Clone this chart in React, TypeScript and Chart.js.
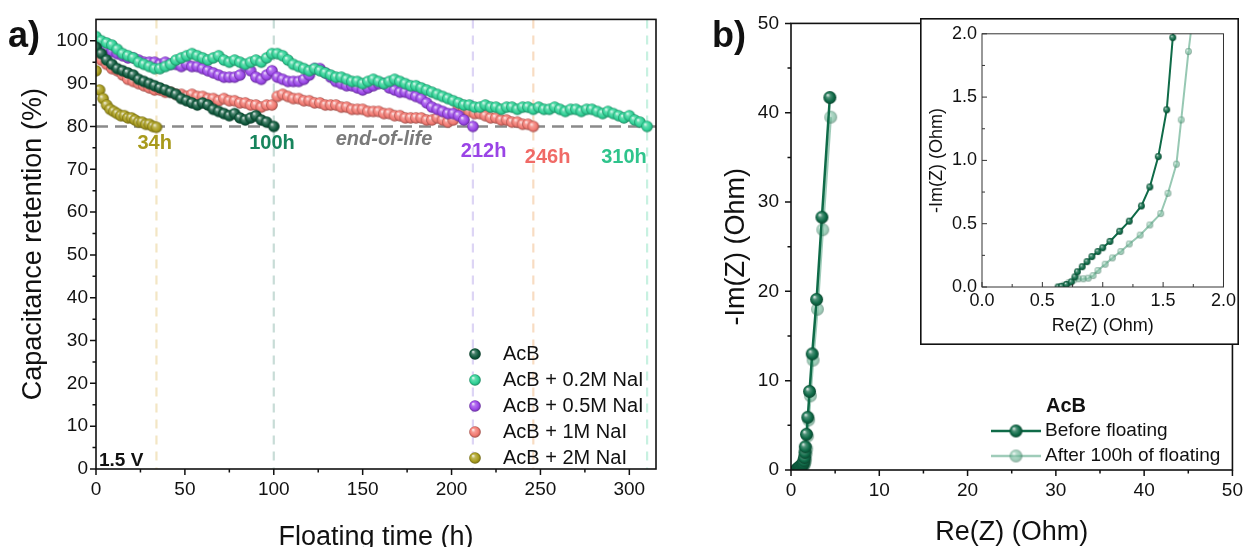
import React, { useEffect, useRef } from "react";
import { Chart, registerables } from "chart.js";
Chart.register(...registerables);

const FONT = "'Liberation Sans', Arial, sans-serif";

// ---------- Panel a data (time h, retention %) ----------
const ACB: [number, number][] = [[0,98.5],[3,97],[6,95.5],[9,94.5],[12,93.5],[15,93],[18,92.5],[21,92],[24,91],[27,90.5],[30,90],[33,89.5],[36,89],[39,88.5],[42,88],[45,87.5],[48,86.5],[51,86],[54,85.5],[57,85],[60,85.5],[63,85],[66,84],[69,83.5],[72,83],[75,82.5],[78,83],[81,82],[84,81.5],[87,82],[90,82.5],[93,81.5],[96,81],[100,80]];
const NAI_02: [number, number][] = [[0,101],[3,100],[6,99.5],[9,99],[12,98],[15,97],[18,96.5],[21,96],[24,95],[27,94.5],[30,94],[33,93.5],[36,93.5],[39,94],[42,94.5],[45,95.5],[48,96],[51,96.5],[54,97],[57,96.5],[60,96],[63,95.5],[66,96],[69,96.5],[72,95.5],[75,95],[78,95.5],[81,95],[84,94.5],[87,95],[90,95.5],[93,95],[96,96],[99,97],[102,97],[105,96.5],[108,95.5],[111,94.5],[114,94],[117,93.5],[120,93],[123,93.5],[126,93],[129,92.5],[132,92],[135,91.5],[138,91.5],[141,91],[144,90.5],[147,90.5],[150,90],[153,90.5],[156,91],[159,90.5],[162,90],[165,90.5],[168,91],[171,90.5],[174,90],[177,89.5],[180,89.5],[183,89],[186,88.5],[189,88],[192,87.5],[195,87],[198,86.5],[201,86],[204,85.5],[207,85],[210,85],[213,84.5],[216,84.5],[219,85],[222,84.5],[225,84.5],[228,84],[231,84.5],[234,84.5],[237,84],[240,84.5],[243,84.5],[246,84],[249,84.5],[252,84],[255,84],[258,84.5],[261,84],[264,83.5],[267,84],[270,84],[273,83.5],[276,84],[279,84],[282,83.5],[285,83],[288,83.5],[291,83],[294,82.5],[297,82],[300,82.5],[303,81.5],[306,81],[310,80]];
const NAI_05: [number, number][] = [[0,100.5],[3,99.5],[6,98],[9,97.5],[12,97],[15,96.5],[18,96],[21,96],[24,95.5],[27,95],[30,95],[33,95],[36,94.5],[39,95],[42,94.5],[45,94.5],[48,94],[51,94.5],[54,94],[57,94],[60,93.5],[63,93],[66,92.5],[69,92],[72,91.5],[75,91.5],[78,91.5],[81,92],[84,94],[87,93],[90,91.5],[93,91],[96,92],[99,93],[102,91.5],[105,91],[108,90.5],[111,90.5],[114,90.5],[117,91],[120,92],[123,93.5],[126,93.5],[129,92.5],[132,91.5],[135,90.5],[138,90],[141,89.5],[144,89.5],[147,89],[150,88.5],[153,89],[156,89.5],[159,90],[162,90],[165,89],[168,88.5],[171,88],[174,88],[177,87.5],[180,87],[183,86.5],[186,85.5],[189,84.5],[192,84],[195,83.5],[198,83],[201,83],[204,82.5],[207,81.5],[212,80]];
const NAI_1: [number, number][] = [[0,97],[3,95.5],[6,94.5],[9,93.5],[12,93],[15,92],[18,91],[21,90.5],[24,90],[27,89.5],[30,89],[33,88.5],[36,88.5],[39,88],[42,88],[45,87.5],[48,87.5],[51,87],[54,87.5],[57,87],[60,87],[63,86.5],[66,86.5],[69,86],[72,86.5],[75,86],[78,86],[81,85.5],[84,85.5],[87,85],[90,85],[93,84.5],[96,85],[99,85],[102,87],[105,87.5],[108,87],[111,86.5],[114,86.5],[117,86],[120,86],[123,85.5],[126,85.5],[129,85],[132,85],[135,85],[138,84.5],[141,84.5],[144,84],[147,84],[150,84],[153,83.5],[156,83.5],[159,83.5],[162,83],[165,83],[168,82.5],[171,82.5],[174,82],[177,82],[180,82],[183,82],[186,81.5],[189,81.5],[192,82],[195,81.5],[198,81],[201,81.5],[204,84.5],[207,84],[210,83.5],[213,83],[216,83],[219,82.5],[222,82],[225,82],[228,81.5],[231,81.5],[234,81],[237,81],[240,80.5],[243,80.5],[246,80]];
const NAI_2: [number, number][] = [[0,93],[2,88.5],[4,86.5],[6,85],[8,84],[10,83.5],[12,83],[14,82.5],[16,82.5],[18,82],[20,82],[22,81.5],[24,81],[26,81],[28,80.5],[30,80.5],[32,80],[34,79.8]];

const SERIES_LABELS = ["AcB", "AcB + 0.2M NaI", "AcB + 0.5M NaI", "AcB + 1M NaI", "AcB + 2M NaI"];
const SERIES_DATA = [ACB, NAI_02, NAI_05, NAI_1, NAI_2];
const SERIES_COLORS = ["#0f5a3d", "#2fd196", "#9b47e8", "#f27a72", "#a99d1f"];

const END_OF_LIFE = 80;
const LIFETIMES = [34, 100, 212, 246, 310];
const LIFETIME_LABELS = ["34h", "100h", "212h", "246h", "310h"];
const LIFETIME_LABEL_POS: [number, number][] = [[33, 76], [99, 76], [218, 74.2], [254, 72.8], [297, 72.8]];
const LIFETIME_TEXT_COLORS = ["#a89a1c", "#17845c", "#9a44e6", "#f06a66", "#2fc48c"];
const LIFETIME_LINE_COLORS = ["#f3e6c4", "#c8dcd7", "#ddd5f5", "#f8dcc2", "#c8f1e1"];

const A_X_TICKS = [0, 50, 100, 150, 200, 250, 300];
const A_X_MINOR = [25, 75, 125, 175, 225, 275];
const A_Y_TICKS = [0, 10, 20, 30, 40, 50, 60, 70, 80, 90, 100];
const A_Y_MINOR = [5, 15, 25, 35, 45, 55, 65, 75, 85, 95];

// ---------- Panel b data (Re Z, -Im Z) ----------
const BEFORE_RE = [0.63,0.66,0.70,0.74,0.77,0.79,0.83,0.87,0.91,0.96,1.0,1.06,1.14,1.22,1.32,1.39,1.46,1.53,1.58,1.62,1.75,1.9,2.1,2.4,2.9,3.5,4.4];
const BEFORE_IM = [0,0.005,0.02,0.04,0.08,0.12,0.16,0.2,0.24,0.28,0.31,0.36,0.44,0.52,0.64,0.79,1.03,1.4,1.97,2.6,4.0,5.9,8.8,13.0,19.1,28.3,41.7];
const AFTER_RE = [0.65,0.68,0.72,0.76,0.8,0.84,0.88,0.92,0.96,1.02,1.08,1.15,1.22,1.31,1.39,1.48,1.54,1.61,1.65,1.71,1.78,1.88,2.0,2.2,2.5,3.0,3.6,4.5];
const AFTER_IM = [0,0.015,0.035,0.055,0.065,0.065,0.07,0.09,0.13,0.18,0.23,0.28,0.34,0.41,0.49,0.58,0.74,0.97,1.32,1.86,2.4,3.8,5.6,8.3,12.3,18.0,26.9,39.5];
const B_LABELS = ["Before floating", "After 100h of floating"];
const B_COLORS = ["#0f6b48", "#7fbca2"];

const B_TICKS = [0, 10, 20, 30, 40, 50];
const B_MINOR = [5, 15, 25, 35, 45];
const IN_TICKS = [0, 0.5, 1, 1.5, 2];
const IN_MINOR = [0.25, 0.75, 1.25, 1.75];

// ---------- helpers ----------
function rgb(hex: string) {
  const n = parseInt(hex.slice(1), 16);
  return [(n >> 16) & 255, (n >> 8) & 255, n & 255];
}
function mix(c: number[], t: number[], f: number) {
  return c.map((v, i) => Math.round(v + (t[i] - v) * f));
}
function rgba(c: number[], a: number) {
  return `rgba(${c[0]},${c[1]},${c[2]},${a})`;
}
function ball(color: string, r: number, alpha = 1) {
  const s = Math.ceil(2 * r + 2);
  const c = document.createElement("canvas");
  c.width = s;
  c.height = s;
  const g = c.getContext("2d")!;
  const cx = s / 2, cy = s / 2;
  const base = rgb(color);
  const grad = g.createRadialGradient(cx - r * 0.35, cy - r * 0.4, r * 0.05, cx, cy, r);
  grad.addColorStop(0, rgba(mix(base, [255, 255, 255], 0.85), alpha));
  grad.addColorStop(0.3, rgba(mix(base, [255, 255, 255], 0.25), alpha));
  grad.addColorStop(0.7, rgba(base, alpha));
  grad.addColorStop(1, rgba(mix(base, [0, 0, 0], 0.35), alpha));
  g.beginPath();
  g.arc(cx, cy, r, 0, Math.PI * 2);
  g.fillStyle = grad;
  g.fill();
  return c;
}

function fixTicks(values: number[]) {
  return (scale: any) => {
    scale.ticks = values.map((v) => ({ value: v }));
  };
}

function drawTicks(chart: any, xs: number[], xm: number[], ys: number[], ym: number[], inward: boolean, maj: number, min: number, color: string, lw: number) {
  const { ctx, chartArea, scales } = chart;
  const { bottom, left } = chartArea;
  const s = inward ? -1 : 1;
  ctx.save();
  ctx.strokeStyle = color;
  ctx.lineWidth = lw;
  ctx.beginPath();
  xs.forEach((v) => { const p = scales.x.getPixelForValue(v); ctx.moveTo(p, bottom); ctx.lineTo(p, bottom + s * maj); });
  xm.forEach((v) => { const p = scales.x.getPixelForValue(v); ctx.moveTo(p, bottom); ctx.lineTo(p, bottom + s * min); });
  ys.forEach((v) => { const p = scales.y.getPixelForValue(v); ctx.moveTo(left, p); ctx.lineTo(left - s * maj, p); });
  ym.forEach((v) => { const p = scales.y.getPixelForValue(v); ctx.moveTo(left, p); ctx.lineTo(left - s * min, p); });
  ctx.stroke();
  ctx.restore();
}

function frame(chart: any, color: string, lw: number) {
  const { ctx, chartArea: { left, right, top, bottom } } = chart;
  ctx.save();
  ctx.strokeStyle = color;
  ctx.lineWidth = lw;
  ctx.strokeRect(left, top, right - left, bottom - top);
  ctx.restore();
}

function text(ctx: CanvasRenderingContext2D, t: string, x: number, y: number, font: string, color: string, align: CanvasTextAlign = "left") {
  ctx.save();
  ctx.font = font;
  ctx.fillStyle = color;
  ctx.textAlign = align;
  ctx.textBaseline = "middle";
  ctx.fillText(t, x, y);
  ctx.restore();
}

const tickFont = (size: number) => ({ family: FONT, size });

export default function App() {
  const aRef = useRef<HTMLCanvasElement>(null);
  const bRef = useRef<HTMLCanvasElement>(null);
  const iRef = useRef<HTMLCanvasElement>(null);

  useEffect(() => {
    document.body.style.margin = "0";
    document.body.style.overflow = "hidden";
    const balls = SERIES_COLORS.map((c) => ball(c, 5.8));

    const panelA = new Chart(aRef.current!, {
      type: "scatter",
      data: {
        datasets: SERIES_DATA.map((d, i) => ({
          label: SERIES_LABELS[i],
          data: d.map(([x, y]) => ({ x, y })),
          pointStyle: balls[i] as any,
          pointRadius: 5.8,
          showLine: false,
        })),
      },
      options: {
        animation: false,
        responsive: false,
        maintainAspectRatio: false,
        layout: { padding: { top: 18, right: 24, left: 0, bottom: 0 } },
        plugins: { legend: { display: false }, tooltip: { enabled: false } },
        scales: {
          x: {
            type: "linear", min: 0, max: 315,
            afterBuildTicks: fixTicks(A_X_TICKS),
            afterFit: (s: any) => { s.height = 78; },
            grid: { display: false, drawTicks: false },
            border: { display: false },
            ticks: { padding: 9, color: "#111", font: tickFont(19), maxRotation: 0, autoSkip: false },
            title: { display: true, text: "Floating time (h)", color: "#111", font: { family: FONT, size: 27 }, padding: { top: 0, bottom: -7 } },
          },
          y: {
            type: "linear", min: 0, max: 105,
            afterBuildTicks: fixTicks(A_Y_TICKS),
            afterFit: (s: any) => { s.width = 96; },
            grid: { display: false, drawTicks: false },
            border: { display: false },
            ticks: { padding: 8, color: "#111", font: tickFont(19), autoSkip: false },
            title: { display: true, text: "Capacitance retention (%)", color: "#111", font: { family: FONT, size: 27 }, padding: { top: 17, bottom: 0 } },
          },
        },
      },
      plugins: [
        {
          id: "panelA",
          beforeDatasetsDraw(chart: any) {
            const { ctx, chartArea: { left, right, top, bottom }, scales: { x, y } } = chart;
            ctx.save();
            ctx.lineWidth = 2.2;
            ctx.setLineDash([9, 7]);
            LIFETIMES.forEach((h, i) => {
              const p = x.getPixelForValue(h);
              ctx.strokeStyle = LIFETIME_LINE_COLORS[i];
              ctx.beginPath();
              ctx.moveTo(p, top);
              ctx.lineTo(p, bottom);
              ctx.stroke();
            });
            ctx.strokeStyle = "#8a8a8a";
            ctx.lineWidth = 2.6;
            ctx.setLineDash([12, 7]);
            const py = y.getPixelForValue(END_OF_LIFE);
            ctx.beginPath();
            ctx.moveTo(left, py);
            ctx.lineTo(right, py);
            ctx.stroke();
            ctx.restore();
          },
          afterDatasetsDraw(chart: any) {
            const { ctx, scales: { x, y } } = chart;
            frame(chart, "#111", 1.6);
            drawTicks(chart, A_X_TICKS, A_X_MINOR, A_Y_TICKS, A_Y_MINOR, false, 6, 3.5, "#111", 1.5);
            LIFETIME_LABELS.forEach((t, i) => {
              const [hx, hy] = LIFETIME_LABEL_POS[i];
              text(ctx, t, x.getPixelForValue(hx), y.getPixelForValue(hy), `bold 20px ${FONT}`, LIFETIME_TEXT_COLORS[i], "center");
            });
            text(ctx, "end-of-life", x.getPixelForValue(162), y.getPixelForValue(77), `italic bold 20px ${FONT}`, "#7a7a7a", "center");
            // legend
            const rows = [354, 380, 406, 432, 458];
            SERIES_LABELS.forEach((l, i) => {
              const b = balls[i];
              ctx.drawImage(b, 475 - b.width / 2, rows[i] - b.height / 2);
              text(ctx, l, 503, rows[i], `20px ${FONT}`, "#111");
            });
            text(ctx, "1.5 V", 99, 461, `bold 19px ${FONT}`, "#111");
            text(ctx, "a)", 8, 37, `bold 36px ${FONT}`, "#111");
          },
        },
      ],
    } as any);

    const bBalls = [ball(B_COLORS[0], 6.5), ball("#5fae8c", 6.5, 0.6)];
    const iBalls = [ball(B_COLORS[0], 3.4), ball("#6fb596", 3.4, 0.65)];
    const bData = [
      BEFORE_RE.map((v, i) => ({ x: v, y: BEFORE_IM[i] })),
      AFTER_RE.map((v, i) => ({ x: v, y: AFTER_IM[i] })),
    ];

    const panelB = new Chart(bRef.current!, {
      type: "scatter",
      data: {
        datasets: bData.map((d, i) => ({
          label: B_LABELS[i],
          data: d,
          showLine: true,
          borderColor: i === 0 ? B_COLORS[0] : "rgba(95,170,138,0.6)",
          borderWidth: 2.5,
          pointStyle: bBalls[i] as any,
          pointRadius: 6.5,
          tension: 0,
        })),
      },
      options: {
        animation: false,
        responsive: false,
        maintainAspectRatio: false,
        layout: { padding: { top: 19, right: 14, left: 0, bottom: 0 } },
        plugins: { legend: { display: false }, tooltip: { enabled: false } },
        scales: {
          x: {
            type: "linear", min: 0, max: 50,
            afterBuildTicks: fixTicks(B_TICKS),
            afterFit: (s: any) => { s.height = 77; },
            grid: { display: false, drawTicks: false },
            border: { display: false },
            ticks: { padding: 9, color: "#111", font: tickFont(19), maxRotation: 0, autoSkip: false },
            title: { display: true, text: "Re(Z) (Ohm)", color: "#111", font: { family: FONT, size: 27 }, padding: { top: 0, bottom: -2 } },
          },
          y: {
            type: "linear", min: 0, max: 50,
            afterBuildTicks: fixTicks(B_TICKS),
            afterFit: (s: any) => { s.width = 101; },
            grid: { display: false, drawTicks: false },
            border: { display: false },
            ticks: { padding: 12, color: "#111", font: tickFont(19), autoSkip: false },
            title: { display: true, text: "-Im(Z) (Ohm)", color: "#111", font: { family: FONT, size: 27 }, padding: { top: 30, bottom: 0 } },
          },
        },
      },
      plugins: [
        {
          id: "panelB",
          afterDatasetsDraw(chart: any) {
            const { ctx } = chart;
            frame(chart, "#111", 1.6);
            drawTicks(chart, B_TICKS, B_MINOR, B_TICKS, B_MINOR, false, 6, 3.5, "#111", 1.5);
            text(ctx, "AcB", 376, 406, `bold 20px ${FONT}`, "#111", "center");
            const rows = [431, 456];
            B_LABELS.forEach((l, i) => {
              ctx.save();
              ctx.strokeStyle = i === 0 ? B_COLORS[0] : "rgba(95,170,138,0.6)";
              ctx.lineWidth = 2.5;
              ctx.beginPath();
              ctx.moveTo(301, rows[i]);
              ctx.lineTo(351, rows[i]);
              ctx.stroke();
              ctx.restore();
              const b = bBalls[i];
              ctx.drawImage(b, 326 - b.width / 2, rows[i] - b.height / 2);
              text(ctx, l, 355, rows[i], `19px ${FONT}`, "#111");
            });
            text(ctx, "b)", 22, 37, `bold 36px ${FONT}`, "#111");
          },
        },
      ],
    } as any);

    const inset = new Chart(iRef.current!, {
      type: "scatter",
      data: {
        datasets: bData.map((d, i) => ({
          label: B_LABELS[i],
          data: d,
          showLine: true,
          borderColor: i === 0 ? B_COLORS[0] : "rgba(95,170,138,0.65)",
          borderWidth: 2,
          pointStyle: iBalls[i] as any,
          pointRadius: 3.4,
          tension: 0,
        })),
      },
      options: {
        animation: false,
        responsive: false,
        maintainAspectRatio: false,
        layout: { padding: { top: 14, right: 15, left: 0, bottom: 0 } },
        plugins: { legend: { display: false }, tooltip: { enabled: false } },
        scales: {
          x: {
            type: "linear", min: 0, max: 2,
            afterBuildTicks: fixTicks(IN_TICKS),
            afterFit: (s: any) => { s.height = 58; },
            grid: { display: false, drawTicks: false },
            border: { display: false },
            ticks: { padding: 3, color: "#111", font: tickFont(18), maxRotation: 0, autoSkip: false, callback: (v: any) => Number(v).toFixed(1) },
            title: { display: true, text: "Re(Z) (Ohm)", color: "#111", font: { family: FONT, size: 18 }, padding: { top: 0, bottom: 8 } },
          },
          y: {
            type: "linear", min: 0, max: 2,
            afterBuildTicks: fixTicks(IN_TICKS),
            afterFit: (s: any) => { s.width = 62; },
            grid: { display: false, drawTicks: false },
            border: { display: false },
            ticks: { padding: 5, color: "#111", font: tickFont(18), autoSkip: false, callback: (v: any) => Number(v).toFixed(1) },
            title: { display: true, text: "-Im(Z) (Ohm)", color: "#111", font: { family: FONT, size: 18 }, padding: { top: 6, bottom: 0 } },
          },
        },
      },
      plugins: [
        {
          id: "insetBg",
          beforeDraw(chart: any) {
            const { ctx, width, height } = chart;
            ctx.save();
            ctx.fillStyle = "#fff";
            ctx.fillRect(0, 0, width, height);
            ctx.restore();
          },
          afterDatasetsDraw(chart: any) {
            const { ctx, width, height } = chart;
            frame(chart, "#333", 1);
            drawTicks(chart, IN_TICKS, IN_MINOR, IN_TICKS, IN_MINOR, true, 5, 3, "#333", 1);
            ctx.save();
            ctx.strokeStyle = "#111";
            ctx.lineWidth = 1.6;
            ctx.strokeRect(0.8, 0.8, width - 1.6, height - 1.6);
            ctx.restore();
          },
        },
      ],
    } as any);

    return () => {
      panelA.destroy();
      panelB.destroy();
      inset.destroy();
    };
  }, []);

  return (
    <div style={{ position: "relative", width: 1252, height: 547, overflow: "hidden", background: "#fff" }}>
      <canvas ref={aRef} width={680} height={547} style={{ position: "absolute", left: 0, top: 0, width: 680, height: 547 }} />
      <canvas ref={bRef} width={562} height={547} style={{ position: "absolute", left: 690, top: 0, width: 562, height: 547 }} />
      <canvas ref={iRef} width={319} height={327} style={{ position: "absolute", left: 920, top: 18, width: 319, height: 327 }} />
    </div>
  );
}
